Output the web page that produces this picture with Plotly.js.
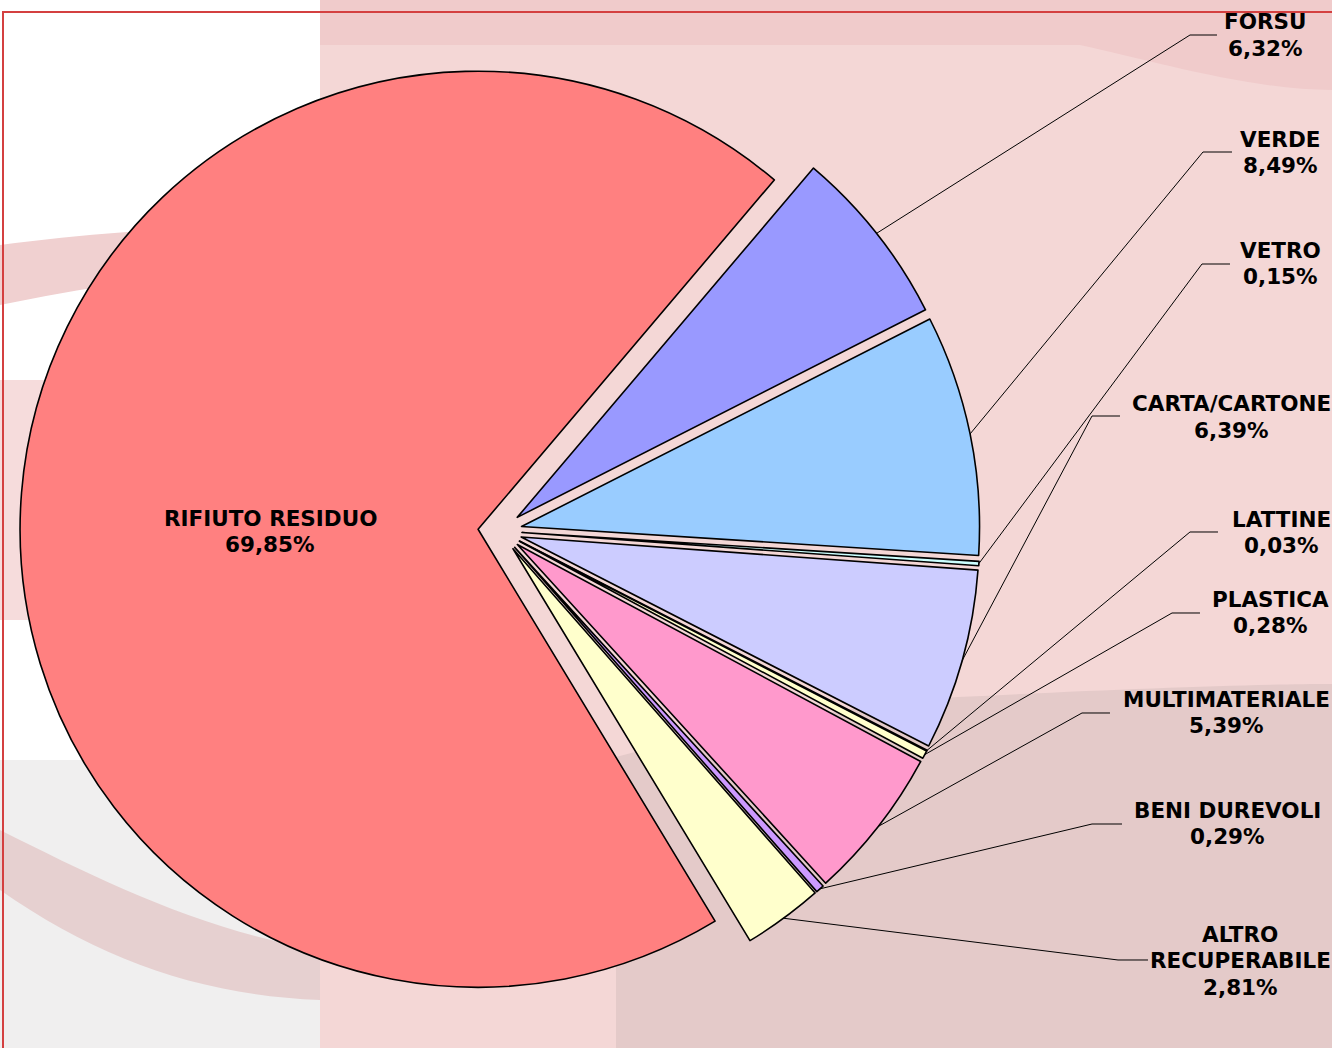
<!DOCTYPE html>
<html>
<head>
<meta charset="utf-8">
<script src="https://cdn.plot.ly/plotly-3.0.1.min.js"></script>
<style>
  html, body { margin: 0; padding: 0; background: #ffffff; }
  #chart { width: 1332px; height: 1048px; }
</style>
</head>
<body>
<div id="chart"></div>
<script>
// ---- data ----
const labels = ['FORSU', 'VERDE', 'VETRO', 'CARTA/CARTONE', 'LATTINE', 'PLASTICA',
                'MULTIMATERIALE', 'BENI DUREVOLI', 'ALTRO RECUPERABILE', 'RIFIUTO RESIDUO'];
const nameLines = [['FORSU'], ['VERDE'], ['VETRO'], ['CARTA/CARTONE'], ['LATTINE'], ['PLASTICA'],
                ['MULTIMATERIALE'], ['BENI DUREVOLI'], ['ALTRO', 'RECUPERABILE'], ['RIFIUTO RESIDUO']];
const values = [6.32, 8.49, 0.15, 6.39, 0.03, 0.28, 5.39, 0.29, 2.81, 69.85];
const colors = ['#9999FF', '#99CCFF', '#CCFFFF', '#CCCCFF', '#FFFF99', '#FFFFCC',
                '#FF99CC', '#CC99FF', '#FFFFCC', '#FF8080'];

// ---- layout constants ----
const W = 1332, H = 1048;
const PULL = 0.048;
const ROT = 40.3;
const dom = { x0: 20, x1: 980, y0: 51, y1: 1011 };  // pixel box of the pie domain
const px = v => v / W;
const py = v => 1 - v / H;

// label blocks: center x and first line y; line step
const labelPos = [
  [1265, 22], [1280, 139], [1280, 250], [1231, 404], [1281, 519],
  [1270, 599], [1226, 699], [1227, 810], [1240, 934], [270, 518]
];
const LINE = 26.5;
const elbows = [
  [[1190, 35], [1217, 35]],
  [[1203, 152], [1232, 152]],
  [[1202, 264], [1230, 264]],
  [[1092, 416], [1120, 416]],
  [[1190, 532], [1218, 532]],
  [[1172, 613], [1200, 613]],
  [[1082, 713], [1110, 713]],
  [[1092, 824], [1122, 824]],
  [[1118, 960], [1148, 960]],
  null
];

const fmt = v => v.toFixed(2).replace('.', ',') + '%';

// pie geometry (same rule Plotly uses)
const cx = (dom.x0 + dom.x1) / 2, cy = (dom.y0 + dom.y1) / 2;
const R = Math.min(dom.x1 - dom.x0, dom.y1 - dom.y0) / 2 / (1 + PULL);
const total = values.reduce((a, b) => a + b, 0);

const shapes = [];
function pathShape(pts, fill) {
  return {type: 'path', xref: 'paper', yref: 'paper', layer: 'below', line: {width: 0},
    fillcolor: fill, path: pts};
}
const P = (x, y) => px(x).toFixed(5) + ',' + py(y).toFixed(5);
// background imitation
shapes.push(pathShape(`M${P(0,760)} L${P(320,760)} L${P(320,1048)} L${P(0,1048)} Z`, '#F0EFEF'));
shapes.push({type: 'rect', xref: 'paper', yref: 'paper', layer: 'below',
  x0: px(320), x1: px(W), y0: py(H), y1: py(0), line: {width: 0}, fillcolor: '#F4D7D6'});
shapes.push(pathShape(`M${P(320,0)} L${P(1332,0)} L${P(1332,90)} C${P(1250,90)} ${P(1150,60)} ${P(1080,45)} L${P(320,45)} Z`, '#F0CBCB'));
shapes.push(pathShape(`M${P(616,757)} C${P(760,720)} ${P(900,700)} ${P(958,697)} C${P(1100,690)} ${P(1250,684)} ${P(1332,684)} L${P(1332,1048)} L${P(616,1048)} Z`, '#E4CAC9'));
shapes.push(pathShape(`M${P(0,245)} C${P(100,232)} ${P(200,225)} ${P(320,228)} L${P(320,262)} C${P(200,270)} ${P(100,285)} ${P(0,305)} Z`, '#F0D0D0'));
shapes.push(pathShape(`M${P(0,380)} L${P(320,380)} L${P(320,620)} L${P(0,620)} Z`, '#F6DCDC'));
shapes.push(pathShape(`M${P(0,830)} C${P(100,880)} ${P(200,930)} ${P(320,950)} L${P(320,1000)} C${P(200,995)} ${P(100,960)} ${P(0,890)} Z`, '#E6D0D0'));
// red frame
shapes.push({type: 'rect', xref: 'paper', yref: 'paper', layer: 'above',
  x0: px(3), x1: px(W + 20), y0: py(H + 20), y1: py(12),
  line: {color: '#D44040', width: 2}, fillcolor: 'rgba(0,0,0,0)'});

// leader lines from the slice arc (computed from data) to elbows; labels
let cum = 0;
const annotations = [];
const font = {family: 'DejaVu Sans, Verdana, sans-serif', size: 21.5, color: '#000000', weight: 'bold'};
values.forEach((v, i) => {
  const a0 = ROT + cum / total * 360;
  const mid = (a0 + v / total * 180) * Math.PI / 180;
  cum += v;
  const sx = cx + (1 + PULL) * R * Math.sin(mid);
  const sy = cy - (1 + PULL) * R * Math.cos(mid);
  if (elbows[i]) {
    const [e1, e2] = elbows[i];
    shapes.push({type: 'path', xref: 'paper', yref: 'paper', layer: 'above',
      line: {color: '#000000', width: 1},
      path: `M${P(sx, sy)} L${P(e1[0], e1[1])} L${P(e2[0], e2[1])}`});
  }
  const lines = nameLines[i].concat([fmt(v)]);
  lines.forEach((t, k) => {
    annotations.push({
      xref: 'paper', yref: 'paper', x: px(labelPos[i][0]), y: py(labelPos[i][1] + k * LINE),
      xanchor: 'center', yanchor: 'middle', align: 'center', showarrow: false,
      text: t, font: font
    });
  });
});

const trace = {
  type: 'pie',
  labels: labels,
  values: values,
  sort: false,
  direction: 'clockwise',
  rotation: ROT,
  pull: values.map(() => PULL),
  marker: {colors: colors, line: {color: '#000000', width: 1.6}},
  textinfo: 'none',
  hoverinfo: 'skip',
  showlegend: false,
  domain: {x: [px(dom.x0), px(dom.x1)], y: [py(dom.y1), py(dom.y0)]}
};

const layout = {
  width: W, height: H,
  margin: {l: 0, r: 0, t: 0, b: 0},
  paper_bgcolor: '#FFFFFF',
  showlegend: false,
  shapes: shapes,
  annotations: annotations
};

Plotly.newPlot('chart', [trace], layout, {displayModeBar: false, staticPlot: true});
</script>
</body>
</html>
